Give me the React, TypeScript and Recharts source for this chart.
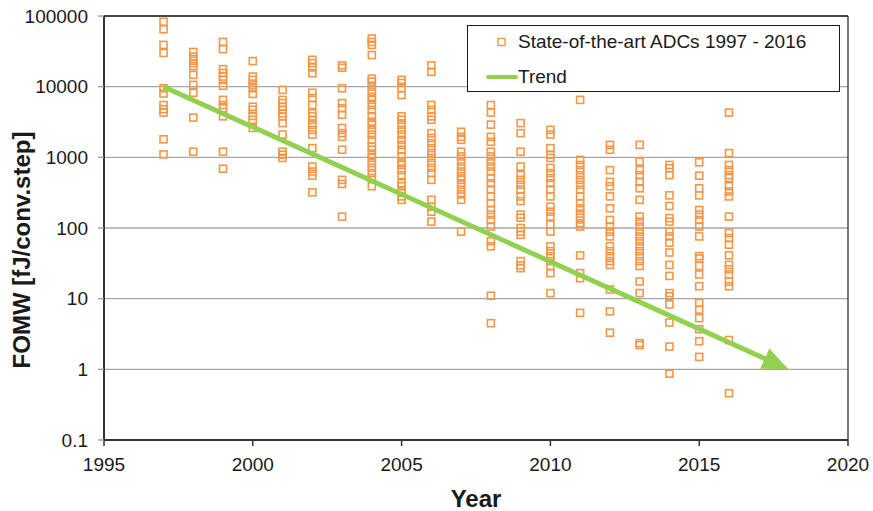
import React from 'react';
import {
  ScatterChart,
  Scatter,
  XAxis,
  YAxis,
  CartesianGrid,
  ReferenceLine,
  Legend,
} from 'recharts';

const FONT = '"Liberation Sans", Arial, Helvetica, sans-serif';
const ORANGE = '#F79646';
const GREEN = '#92D050';

const xTicks = [1995, 2000, 2005, 2010, 2015, 2020];
const yTicks = [0.1, 1, 10, 100, 1000, 10000, 100000];

// FOMW values per year
const fomw1997 = [83000, 65000, 39000, 30000, 9500, 8000, 5500, 4800, 4300, 1800, 1100];
const fomw1998 = [31000, 26600, 23300, 21500, 19600, 14700, 10600, 8200, 3650, 1200];
const fomw1999 = [43000, 34000, 17700, 15600, 13900, 12500, 10300, 6500, 5500, 4950, 3800, 1200, 690];
const fomw2000 = [23000, 13900, 12500, 10600, 9500, 7900, 5200, 4700, 3850, 3400, 2600];
const fomw2001 = [9000, 6500, 5850, 5200, 4700, 4200, 3800, 3050, 2100, 1200, 1090, 980];
const fomw2002 = [24000, 21500, 18700, 15500, 8200, 6900, 5500, 4200, 3800, 3400, 2900, 2450, 2100, 1350, 740, 630, 550, 320];
const fomw2003 = [20000, 18500, 9500, 5850, 4950, 4000, 2600, 2200, 1950, 1280, 480, 420, 145];
const fomw2004 = [48000, 43000, 39000, 28000, 13000, 11800, 10000, 8500, 7200, 6500, 5500, 4700, 3800, 3200, 2900, 2450, 2100, 1770, 1420, 1280, 1090, 980, 830, 710, 600, 510, 390];
const fomw2005 = [12500, 11300, 9500, 7600, 3800, 3400, 2900, 2450, 2100, 1770, 1500, 1280, 1030, 870, 780, 660, 560, 430, 390, 330, 280, 250];
const fomw2006 = [20000, 16200, 5500, 4700, 3800, 3400, 2200, 1880, 1590, 1350, 1150, 980, 830, 710, 600, 480, 250, 200, 170, 123];
const fomw2007 = [2300, 1950, 1770, 1200, 1030, 870, 740, 630, 540, 480, 410, 350, 300, 250, 89];
const fomw2008 = [5500, 4300, 2900, 1950, 1660, 1200, 1030, 870, 740, 630, 510, 430, 350, 280, 225, 180, 155, 130, 105, 65, 55, 11, 4.5];
const fomw2009 = [3050, 2200, 1200, 740, 560, 480, 410, 350, 280, 240, 155, 140, 100, 89, 80, 34, 29.5, 27];
const fomw2010 = [2450, 2100, 1350, 1090, 980, 710, 600, 510, 430, 350, 280, 200, 170, 145, 112, 89, 55, 47, 40, 34, 29, 23, 12];
const fomw2011 = [6500, 920, 780, 660, 560, 480, 410, 350, 280, 225, 190, 160, 140, 117, 105, 41, 23, 19.5, 6.3];
const fomw2012 = [1500, 1280, 660, 450, 390, 280, 190, 130, 105, 89, 76, 55, 47, 40, 34, 30, 13.5, 6.6, 3.3];
const fomw2013 = [1500, 870, 660, 560, 450, 365, 250, 145, 123, 105, 89, 76, 65, 55, 47, 40, 34, 29, 17.5, 12, 2.35, 2.2];
const fomw2014 = [780, 700, 560, 290, 205, 138, 123, 89, 76, 62, 45, 30, 21, 12, 10.8, 8.3, 4.6, 2.1, 0.87];
const fomw2015 = [850, 550, 365, 290, 180, 155, 130, 105, 76, 40, 37, 29, 22, 15, 8.7, 7, 5.3, 3.7, 2.5, 1.5];
const fomw2016 = [4300, 1150, 780, 660, 560, 510, 390, 330, 280, 145, 85, 72, 58, 41, 30, 26, 22, 17.5, 15, 2.6, 0.46];

const years = [1997, 1998, 1999, 2000, 2001, 2002, 2003, 2004, 2005, 2006, 2007, 2008, 2009, 2010, 2011, 2012, 2013, 2014, 2015, 2016];
const fomwByYear = [
  fomw1997, fomw1998, fomw1999, fomw2000, fomw2001, fomw2002, fomw2003, fomw2004, fomw2005, fomw2006,
  fomw2007, fomw2008, fomw2009, fomw2010, fomw2011, fomw2012, fomw2013, fomw2014, fomw2015, fomw2016,
];

// trend arrow: start and tip
const trendYears = [1997, 2018];
const trendValues = [10000, 1];

const adcData = years.flatMap((year, i) => fomwByYear[i].map((v) => ({ year, fomw: v })));
const trendData = trendYears.map((year, i) => ({ year, fomw: trendValues[i] }));

const squareShape = (props: any) => {
  const { cx, cy } = props;
  if (cx == null || cy == null) return <g />;
  return (
    <rect x={cx - 3.5} y={cy - 3.5} width={7} height={7} fill="none" stroke={ORANGE} strokeWidth={1.6} />
  );
};

const emptyShape = () => <g />;

const trendArrow = (props: any) => {
  const pts = props.points || [];
  if (pts.length < 2) return <g />;
  const a = pts[0];
  const b = pts[pts.length - 1];
  const dx = b.x - a.x;
  const dy = b.y - a.y;
  const len = Math.sqrt(dx * dx + dy * dy);
  const ux = dx / len;
  const uy = dy / len;
  const headLen = 26;
  const halfW = 11;
  const bx = b.x - ux * headLen;
  const by = b.y - uy * headLen;
  const p1 = `${bx - uy * halfW},${by + ux * halfW}`;
  const p2 = `${bx + uy * halfW},${by - ux * halfW}`;
  return (
    <g>
      <line x1={a.x} y1={a.y} x2={bx + ux * 2} y2={by + uy * 2} stroke={GREEN} strokeWidth={5} />
      <polygon points={`${b.x},${b.y} ${p1} ${p2}`} fill={GREEN} />
    </g>
  );
};

const renderLegend = (props: any) => {
  const payload = props.payload || [];
  return (
    <div
      style={{
        boxSizing: 'border-box',
        width: 373,
        height: 67,
        border: '1.5px solid #1a1a1a',
        background: '#fff',
        fontFamily: FONT,
        fontSize: 19,
        color: '#1a1a1a',
        position: 'relative',
      }}
    >
      {payload.map((entry: any, i: number) => (
        <div
          key={entry.value}
          style={{
            position: 'absolute',
            left: 18,
            top: i === 0 ? 4 : 39,
            height: 24,
            display: 'flex',
            alignItems: 'center',
            whiteSpace: 'nowrap',
          }}
        >
          <svg width={32} height={24} style={{ display: 'block' }}>
            {i === 0 ? (
              <rect x={12} y={8.5} width={7} height={7} fill="none" stroke={ORANGE} strokeWidth={1.4} />
            ) : (
              <line x1={2} y1={12} x2={30} y2={12} stroke={GREEN} strokeWidth={4} strokeLinecap="round" />
            )}
          </svg>
          <span>{entry.value}</span>
        </div>
      ))}
    </div>
  );
};

const yTitle = (props: any) => {
  const vb = props.viewBox || { x: 0, y: 16, width: 104, height: 424 };
  const cx = vb.x + 21;
  const cy = vb.y + vb.height / 2 + 22;
  return (
    <text
      x={cx}
      y={cy}
      transform={`rotate(-90 ${cx} ${cy})`}
      textAnchor="middle"
      dominantBaseline="central"
      fontFamily={FONT}
      fontSize={24}
      fontWeight="bold"
      fill="#1a1a1a"
    >
      FOMW [fJ/conv.step]
    </text>
  );
};

export default function App() {
  return (
    <div style={{ position: 'absolute', left: 0, top: 0, width: 873, height: 511, background: '#fff', fontFamily: FONT }}>
      <ScatterChart width={873} height={511} margin={{ top: 16, right: 25, left: 0, bottom: 0 }}>
        <CartesianGrid vertical={false} stroke="#a6a6a6" strokeWidth={1.3} />
        <XAxis
          dataKey="year"
          type="number"
          domain={[1995, 2020]}
          ticks={xTicks}
          height={71}
          tickSize={6}
          tickMargin={12}
          axisLine={{ stroke: '#333', strokeWidth: 2 }}
          tickLine={{ stroke: '#333', strokeWidth: 1.5 }}
          tick={{ fill: '#1a1a1a', fontSize: 19, fontFamily: FONT }}
          label={{ value: 'Year', position: 'insideBottom', offset: 4, fill: '#1a1a1a', fontSize: 24, fontWeight: 'bold', fontFamily: FONT }}
        />
        <YAxis
          dataKey="fomw"
          type="number"
          scale="log"
          domain={[0.1, 100000]}
          ticks={yTicks}
          allowDataOverflow
          width={104}
          tickSize={6}
          tickMargin={10}
          axisLine={{ stroke: '#333', strokeWidth: 2 }}
          tickLine={{ stroke: '#999', strokeWidth: 1.3 }}
          tick={{ fill: '#1a1a1a', fontSize: 19, fontFamily: FONT }}
          tickFormatter={(v: number) => String(v)}
          label={{ content: yTitle }}
        />
        <ReferenceLine y={100000} stroke="#222" strokeWidth={1.5} />
        <ReferenceLine x={2020} stroke="#222" strokeWidth={1.2} />
        <Legend
          content={renderLegend}
          layout="vertical"
          align="center"
          verticalAlign="middle"
          wrapperStyle={{ left: 467, top: 25, width: 373, height: 67 }}
        />
        <Scatter
          name="State-of-the-art ADCs 1997 - 2016"
          data={adcData}
          shape={squareShape}
          fill={ORANGE}
          isAnimationActive={false}
        />
        <Scatter
          name="Trend"
          data={trendData}
          shape={emptyShape}
          line={trendArrow}
          fill={GREEN}
          isAnimationActive={false}
        />
      </ScatterChart>
    </div>
  );
}
